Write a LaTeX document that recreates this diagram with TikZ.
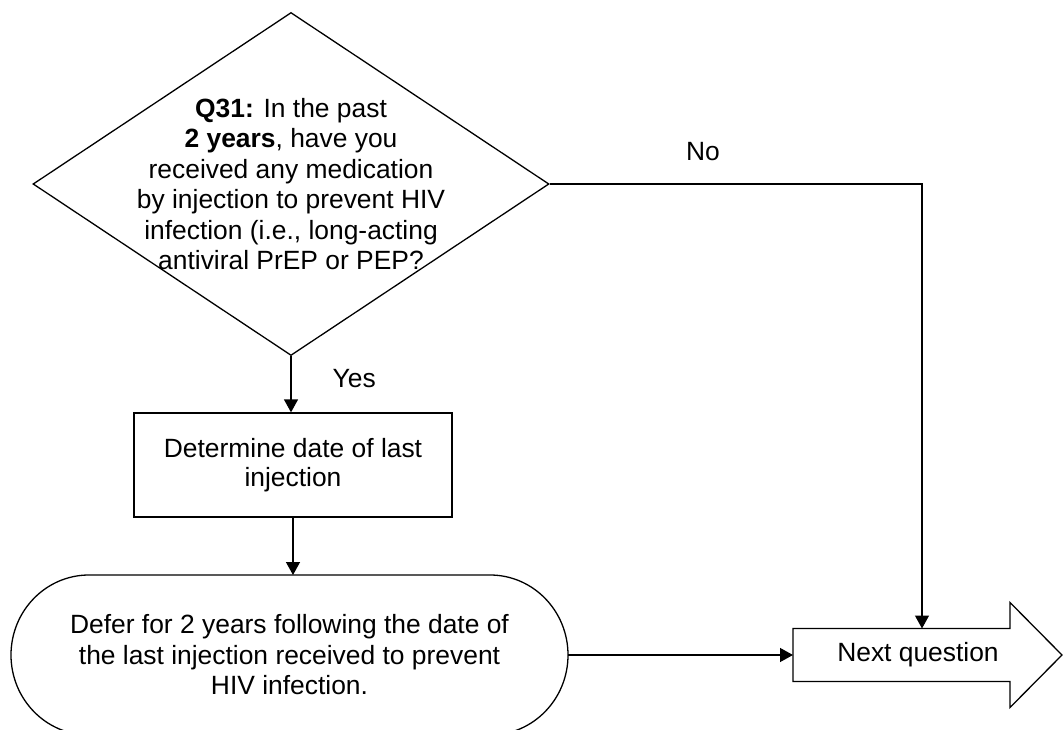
\documentclass[tikz,border=0pt]{standalone}
\usepackage{fontspec}
\setmainfont{Liberation Sans}
\usetikzlibrary{shapes.geometric,arrows.meta}
\begin{document}
\begin{tikzpicture}[x=1pt,y=-1pt,line width=1.3pt,
 >={Triangle[length=13pt,width=14pt]},line join=miter,
 font=\fontsize{26.4}{30.5}\selectfont,
 flow/.style={->},
 decision/.style={diamond,draw,aspect=1.5,inner sep=-40pt,
   minimum width=516pt,minimum height=343pt,align=center},
 process/.style={rectangle,draw,minimum width=318pt,minimum height=104pt,
   align=center,font=\fontsize{26.4}{29}\selectfont},
 terminal/.style={rectangle,outer sep=0pt,minimum width=557pt,
   minimum height=160pt,align=center},
 nextbox/.style={rectangle,outer sep=0pt,minimum width=217pt,
   minimum height=53pt,inner sep=0pt},
 answer/.style={inner sep=0pt}]
\useasboundingbox (0,0) rectangle (1063,730);
\node[decision] (q31) at (291,184) {\textbf{Q31:} In the past\\
  \textbf{2 years}, have you\\ received any medication\\
  by injection to prevent HIV\\ infection (i.e., long-acting\\
  antiviral PrEP or PEP?};
\node[process] (determine) at (293,465) {Determine date of last\\injection};
\node[terminal] (defer) at (289.5,655) {Defer for 2 years following the date of\\
  the last injection received to prevent\\ HIV infection.};
\draw ([xshift=78pt]defer.north west) -- ([xshift=-78pt]defer.north east)
  arc[start angle=90,end angle=-90,x radius=78pt,y radius=80pt]
  -- ([xshift=78pt]defer.south west)
  arc[start angle=270,end angle=90,x radius=78pt,y radius=80pt] -- cycle;
\node[nextbox] (next) at (901.5,655) {\hspace*{33pt}Next question};
\draw (next.north west) -- (next.north east) -- ++(0,-26) -- ++(52,52.5)
  -- ++(-52,52.5) -- ++(0,-26) -- (next.south west) -- cycle;
% connectors
\draw[flow] (q31.east) -| node[answer,pos=.206,above=23pt] (no) {No}
  ([xshift=20.5pt]next.north);
\draw[flow] (q31.south) -- node[answer,pos=.4,right=41pt] (yes) {Yes}
  (q31.south |- determine.north);
\draw[flow] (determine.south) -- (determine.south |- defer.north);
\draw[flow] (defer.east) -- (next.west);
\end{tikzpicture}
\end{document}
